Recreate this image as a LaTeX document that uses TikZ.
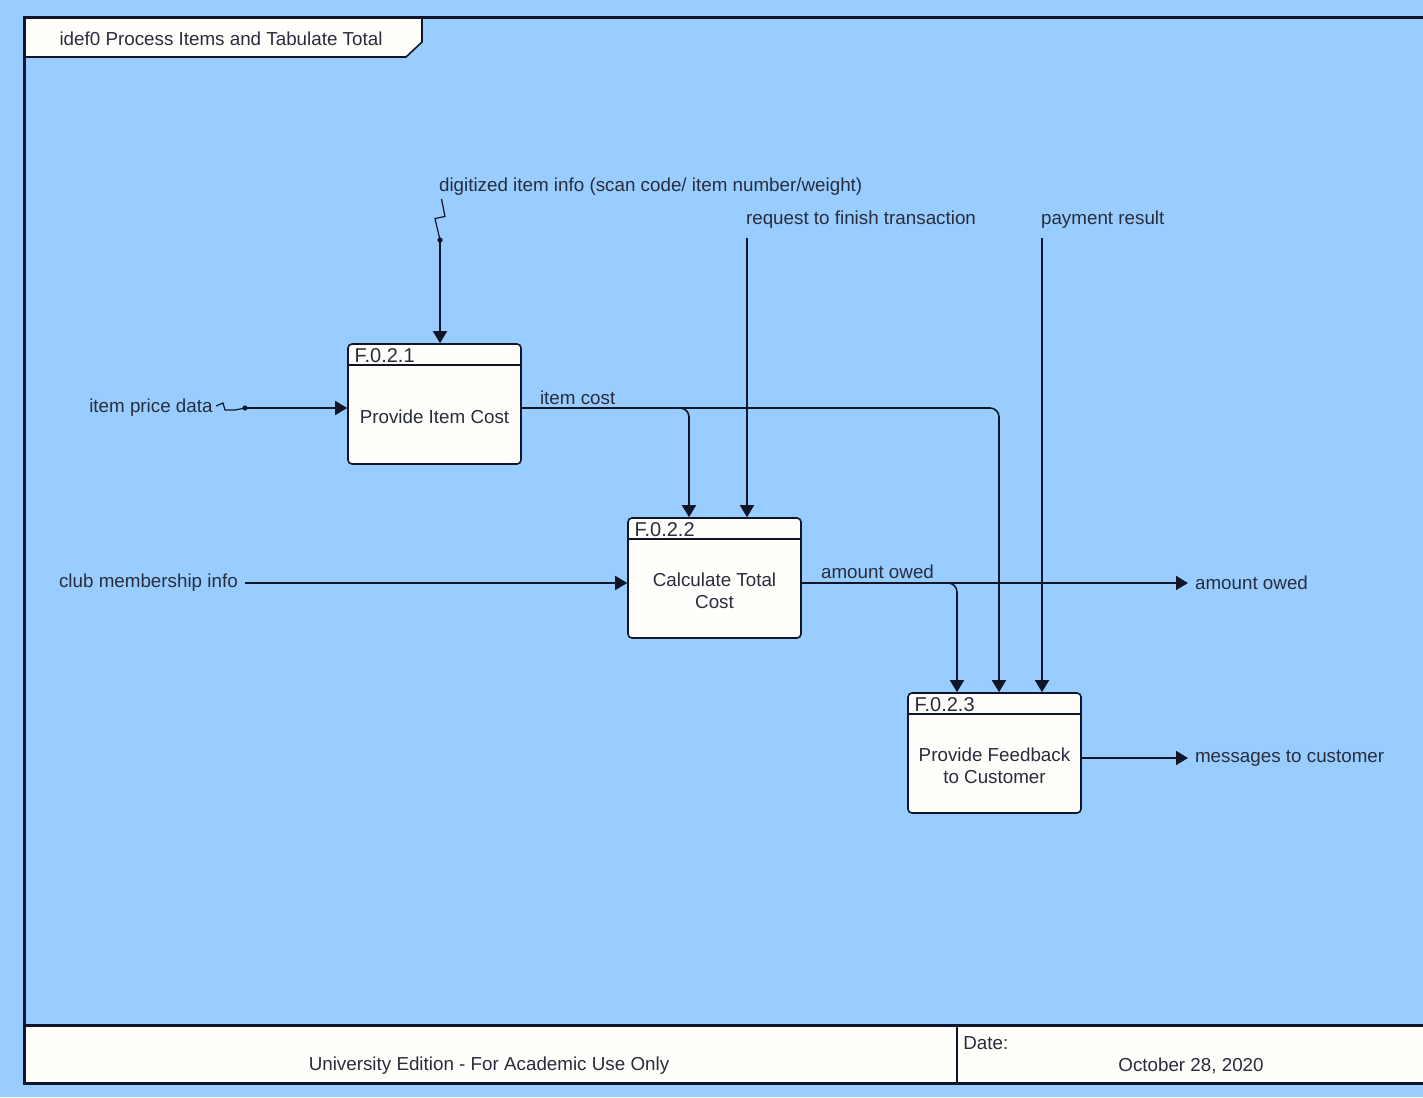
\documentclass[tikz,border=0pt]{standalone}
\usepackage{fontspec}
\setmainfont{Liberation Sans}
\usetikzlibrary{positioning,arrows.meta}
\definecolor{sky}{RGB}{153,204,255}
\definecolor{ink}{RGB}{16,22,40}
\definecolor{paper}{RGB}{255,254,250}
\begin{document}
\begin{tikzpicture}[x=0.5pt,y=-0.5pt]
        \tikzset{every node/.style={font=\fontsize{9.4}{11}\selectfont,text=ink!90,align=center},
                 fnbox/.style={draw=ink,fill=paper,line width=0.8pt,rounded corners=2pt,minimum width=86.5pt,minimum height=60pt,inner sep=0pt},
                 fnid/.style={inner sep=0pt,font=\fontsize{10}{12}\selectfont},
                 flow/.style={ink,line width=0.8pt,-{Triangle[length=6pt,width=7pt]}},
                 wire/.style={ink,line width=0.6pt},
                 frame/.style={ink,line width=1.5pt}}
        \fill[sky] (0,0) rectangle (1423,1097);
        \useasboundingbox (0,0) rectangle (1423,1097);
        \filldraw[fill=paper,draw=ink,line width=0.8pt] (24,18) -- (422,18) -- (422,42) -- (406,57) -- (24,57);
        \node (title) at (221,39) {idef0 Process Items and Tabulate Total};
        \fill[paper] (24,1025) rectangle (1423,1083);
        \draw[gray!45,line width=0.5pt] (1419,20) -- (1419,1025);
        \draw[frame] (1423,18) -- (24,18) -- (24,1083) -- (1423,1083);
        \draw[frame] (24,1025) -- (1423,1025);
        \draw[ink,line width=1pt] (957,1025) -- (957,1083);
        \node (edition) at (489,1066) {University Edition - For Academic Use Only};
        \node[anchor=west,inner sep=0pt] (datel) at (963,1043) {Date:};
        \node (date) at (1191,1066) {October 28, 2020};
        \node[fnbox] (b1) at (434.5,404) {};
        \node[fnbox] (b2) at (714.5,578) {};
        \node[fnbox] (b3) at (994.5,753) {};
        \draw[ink,line width=0.8pt] ([yshift=-11pt]b1.north west) -- ([yshift=-11pt]b1.north east);
        \draw[ink,line width=0.8pt] ([yshift=-11pt]b2.north west) -- ([yshift=-11pt]b2.north east);
        \draw[ink,line width=0.8pt] ([yshift=-11pt]b3.north west) -- ([yshift=-11pt]b3.north east);
        \node[fnid,anchor=north west,below right=2.5pt and 3.5pt of b1.north west] (id1) {F.0.2.1};
        \node[fnid,anchor=north west,below right=2.5pt and 3.5pt of b2.north west] (id2) {F.0.2.2};
        \node[fnid,anchor=north west,below right=2.5pt and 3.5pt of b3.north west] (id3) {F.0.2.3};
        \node (t1) at ([yshift=-6.5pt]b1.center) {Provide Item Cost};
        \node (t2) at ([yshift=-6.5pt]b2.center) {Calculate Total\\Cost};
        \node (t3) at ([yshift=-6.5pt]b3.center) {Provide Feedback\\to Customer};
        \node[anchor=west] (dgl) at (432,187) {digitized item info (scan code/ item number/weight)};
        \node[anchor=west] (rql) at (739,220) {request to finish transaction};
        \node[anchor=west] (prl) at (1034,220) {payment result};
        \node[anchor=east,inner sep=0pt] (ipl) at (213,408) {item price data};
        \node[anchor=west] (cml) at (52,583) {club membership info};
        \node[anchor=west] (icl) at (533,398) {item cost};
        \node[anchor=west] (aol) at (814,572) {amount owed};
        \node[anchor=west] (aoo) at (1188,583) {amount owed};
        \node[anchor=west] (mcl) at (1188,758) {messages to customer};
        \coordinate (dg) at (440,240);
        \coordinate (pd) at (245,408);
        \coordinate (rq) at (747,238);
        \coordinate (pr) at (1042,238);
        \draw[wire] (441.5,199) -- (445,216.5) -- (435,218.5) -- (dg);
        \fill[ink] (dg) circle[radius=1.3pt];
        \draw[flow] (dg) -- (dg |- b1.north);
        \draw[wire] (216,406) -- (223,403) -- (225,410) -- (235,410) -- (pd);
        \fill[ink] (pd) circle[radius=1.3pt];
        \draw[flow] (pd) -- (pd -| b1.west);
        \draw[flow,rounded corners=4.5pt] (pd -| b1.east) -| ([xshift=-12.75pt]b2.north);
        \draw[flow,rounded corners=4.5pt] (pd -| b1.east) -| ([xshift=2.25pt]b3.north);
        \draw[flow] (rq) -- (rq |- b2.north);
        \draw[flow] (pr) -- (pr |- b3.north);
        \draw[flow] (cml.east) -- (cml.east -| b2.west);
        \draw[flow] (aoo.west -| b2.east) -- (aoo.west);
        \draw[flow,rounded corners=4.5pt] (aoo.west -| b2.east) -| ([xshift=-18.75pt]b3.north);
        \draw[flow] (mcl.west -| b3.east) -- (mcl.west);
\end{tikzpicture}
\end{document}
